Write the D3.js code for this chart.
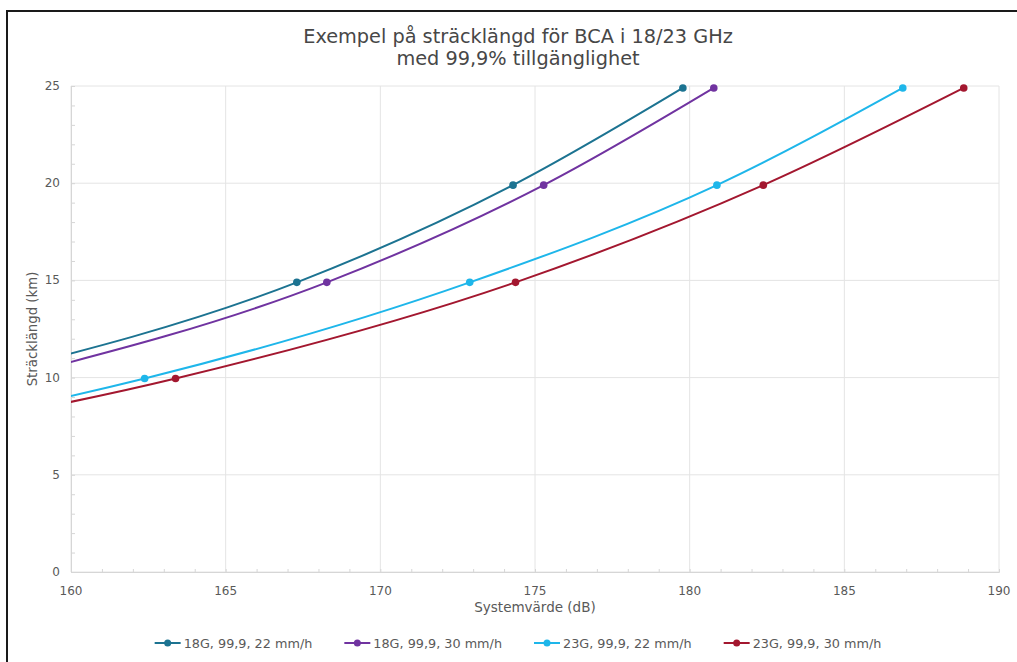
<!DOCTYPE html>
<html>
<head>
<meta charset="utf-8">
<script src="https://cdn.jsdelivr.net/npm/d3@7"></script>
<style>
  body { margin: 0; background: #fff; }
  svg { display: block; }
  text { font-family: 'DejaVu Sans', Verdana, sans-serif; fill: #595959; }
</style>
</head>
<body>
<div id="vis"></div>
<script>
// chart texts
var titleLines = ['Exempel på sträcklängd för BCA i 18/23 GHz', 'med 99,9% tillgänglighet'];
var xTitle = 'Systemvärde (dB)';
var yTitle = 'Sträcklängd (km)';

// series names, in legend order
var seriesNames = ['18G, 99,9, 22 mm/h', '18G, 99,9, 30 mm/h', '23G, 99,9, 22 mm/h', '23G, 99,9, 30 mm/h'];

// system value (dB) and hop length (km) per series, first point lies left of the axis
var sys18g22 = [156.7, 167.30, 174.29, 179.78];
var km18g22 = [9.9, 14.9, 19.9, 24.9];
var sys18g30 = [157.8, 168.27, 175.28, 180.78];
var km18g30 = [9.9, 14.9, 19.9, 24.9];
var sys23g22 = [143.8, 162.38, 172.89, 180.88, 186.89];
var km23g22 = [4.9, 9.95, 14.9, 19.9, 24.9];
var sys23g30 = [144.8, 163.38, 174.37, 182.38, 188.86];
var km23g30 = [4.9, 9.95, 14.9, 19.9, 24.9];

// axis ticks
var xTicks = [160, 165, 170, 175, 180, 185, 190];
var yTicks = [0, 5, 10, 15, 20, 25];

var colors = ['#1c7391', '#7033a0', '#1eb6ea', '#a3172f'];

var width = 1017;
var height = 662;
var margin = { top: 86, right: 18, bottom: 90, left: 71 };

var series = [
  { name: seriesNames[0], xs: sys18g22, ys: km18g22 },
  { name: seriesNames[1], xs: sys18g30, ys: km18g30 },
  { name: seriesNames[2], xs: sys23g22, ys: km23g22 },
  { name: seriesNames[3], xs: sys23g30, ys: km23g30 }
].map(function (s, i) {
  s.color = colors[i];
  s.points = s.xs.map(function (x, j) { return { x: x, y: s.ys[j] }; });
  return s;
});

var svg = d3.select('#vis')
  .append('svg')
  .attr('width', width)
  .attr('height', height);

// frame round the chart (cut at right and bottom in the picture)
svg.append('path')
  .attr('d', 'M7,' + height + 'V11H' + width)
  .attr('fill', 'none')
  .attr('stroke', '#1a1a1a')
  .attr('stroke-width', 2);

var x = d3.scaleLinear()
  .domain([160, 190])
  .range([margin.left, width - margin.right]);

var y = d3.scaleLinear()
  .domain([0, 25])
  .range([height - margin.bottom, margin.top]);

var plotW = x.range()[1] - x.range()[0];
var plotH = y.range()[0] - y.range()[1];

svg.append('clipPath')
  .attr('id', 'plot-clip')
  .append('rect')
  .attr('x', x.range()[0])
  .attr('y', y.range()[1] - 6)
  .attr('width', plotW)
  .attr('height', plotH + 6);

// gridlines
var grid = svg.append('g').attr('class', 'grid');
grid.selectAll('.vgrid')
  .data(xTicks)
  .enter().append('line')
  .attr('x1', function (d) { return x(d); })
  .attr('x2', function (d) { return x(d); })
  .attr('y1', y(0))
  .attr('y2', y(25))
  .attr('stroke', '#e4e4e4')
  .attr('stroke-width', 1);

grid.selectAll('.hgrid')
  .data(yTicks)
  .enter().append('line')
  .attr('x1', x(160))
  .attr('x2', x(190))
  .attr('y1', function (d) { return y(d); })
  .attr('y2', function (d) { return y(d); })
  .attr('stroke', '#e4e4e4')
  .attr('stroke-width', 1);

// minor ticks, pointing into the plot
var xAxis = svg.append('g')
  .attr('transform', 'translate(0,' + y(0) + ')')
  .call(d3.axisBottom(x).tickValues(d3.range(160, 191, 1)).tickSize(-3).tickFormat(''));
xAxis.selectAll('line, path').attr('stroke', '#d6d6d6');

var yAxis = svg.append('g')
  .attr('transform', 'translate(' + x(160) + ',0)')
  .call(d3.axisLeft(y).tickValues(d3.range(0, 26, 1)).tickSize(-4).tickFormat(''));
yAxis.selectAll('line, path').attr('stroke', '#d6d6d6');

// tick labels
svg.append('g').selectAll('text')
  .data(xTicks)
  .enter().append('text')
  .attr('x', function (d) { return x(d); })
  .attr('y', y(0) + 23)
  .attr('text-anchor', 'middle')
  .style('font-size', '12px')
  .text(function (d) { return d; });

svg.append('g').selectAll('text')
  .data(yTicks)
  .enter().append('text')
  .attr('x', 60)
  .attr('y', function (d) { return y(d) + 4; })
  .attr('text-anchor', 'end')
  .style('font-size', '12px')
  .text(function (d) { return d; });

// axis titles
svg.append('text')
  .attr('x', (x.range()[0] + x.range()[1]) / 2)
  .attr('y', 612)
  .attr('text-anchor', 'middle')
  .style('font-size', '13.5px')
  .text(xTitle);

svg.append('text')
  .attr('transform', 'translate(37,' + (y(0) + y(25)) / 2 + ') rotate(-90)')
  .attr('text-anchor', 'middle')
  .style('font-size', '13.3px')
  .text(yTitle);

// chart title
svg.append('g').selectAll('text')
  .data(titleLines)
  .enter().append('text')
  .attr('x', 518)
  .attr('y', function (d, i) { return 43 + i * 22; })
  .attr('text-anchor', 'middle')
  .style('font-size', '19.3px')
  .style('fill', '#474747')
  .text(function (d) { return d; });

// lines and markers
var line = d3.line()
  .curve(d3.curveMonotoneX)
  .x(function (d) { return x(d.x); })
  .y(function (d) { return y(d.y); });

var seriesG = svg.append('g')
  .attr('clip-path', 'url(#plot-clip)')
  .selectAll('.series')
  .data(series)
  .enter().append('g')
  .attr('class', 'series');

seriesG.append('path')
  .attr('d', function (d) { return line(d.points); })
  .attr('fill', 'none')
  .attr('stroke', function (d) { return d.color; })
  .attr('stroke-width', 2);

seriesG.selectAll('circle')
  .data(function (d) {
    return d.points
      .filter(function (p) { return p.x >= 160; })
      .map(function (p) { return { x: p.x, y: p.y, color: d.color }; });
  })
  .enter().append('circle')
  .attr('cx', function (d) { return x(d.x); })
  .attr('cy', function (d) { return y(d.y); })
  .attr('r', 3.8)
  .attr('fill', function (d) { return d.color; });

// legend, centred under the chart
var legend = svg.append('g');
var legendY = 643;
var items = legend.selectAll('.item')
  .data(series)
  .enter().append('g')
  .attr('class', 'item');

items.append('line')
  .attr('x1', 0).attr('x2', 26)
  .attr('y1', legendY).attr('y2', legendY)
  .attr('stroke', function (d) { return d.color; })
  .attr('stroke-width', 2);

items.append('circle')
  .attr('cx', 13).attr('cy', legendY)
  .attr('r', 3.5)
  .attr('fill', function (d) { return d.color; });

items.append('text')
  .attr('x', 29)
  .attr('y', legendY + 4.5)
  .style('font-size', '12.8px')
  .text(function (d) { return d.name; });

var offset = 0;
items.each(function () {
  var g = d3.select(this);
  g.attr('transform', 'translate(' + offset + ',0)');
  offset += 29 + g.select('text').node().getComputedTextLength() + 32;
});
legend.attr('transform', 'translate(' + (518 - (offset - 32) / 2) + ',0)');
</script>
</body>
</html>
